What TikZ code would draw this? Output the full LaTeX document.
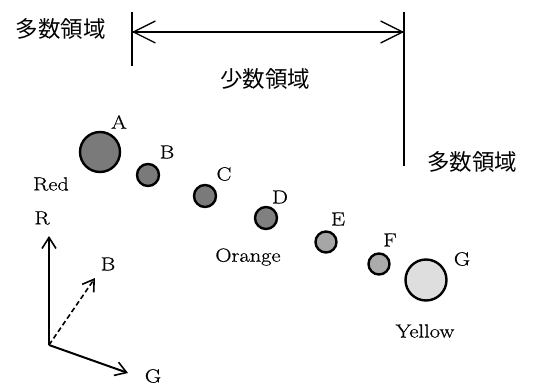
\documentclass[tikz,border=0pt]{standalone}
\usepackage{fontspec}
\newfontfamily\cjk{Noto Sans CJK JP}
\newfontfamily\wide[FakeStretch=1.18,FakeBold=0.6]{Latin Modern Roman}
\usetikzlibrary{arrows.meta}
\begin{document}
\begin{tikzpicture}[x=1pt,y=-1pt,
  lbl/.style={font=\wide\fontsize{19}{19}\selectfont, inner sep=0pt},
  jlbl/.style={font=\cjk\fontsize{22.5}{22.5}\selectfont, inner sep=0pt},
  ball/.style={circle, draw=black, line width=2.4pt, inner sep=0pt},
  bigtip/.style={-{Straight Barb[length=22pt,width=22pt,line width=1.3pt]}},
  axtip/.style={-{Straight Barb[length=11pt,width=14pt,line width=1.6pt]}}]
\useasboundingbox (0,0) rectangle (533,385);
% region labels
\node[jlbl] (m1) at (61,29) {多数領域};
\node[jlbl] (s1) at (265,79) {少数領域};
\node[jlbl] (m2) at (472,162) {多数領域};
% boundary lines
\coordinate (L1) at (132,12); \coordinate (L2) at (132,66);
\coordinate (R1) at (404,12); \coordinate (R2) at (404,166);
\coordinate (AL) at (132,32); \coordinate (AR) at (404,32);
\draw[line width=1.3pt] (L1) -- (L2);
\draw[line width=1.3pt] (R1) -- (R2);
\draw[line width=1.3pt, bigtip] (AR) -- (AL);
\draw[line width=1.3pt, bigtip] (AL) -- (AR);
% balls
\node[ball, fill=black!52, minimum size=40pt] (A) at (100,152) {};
\node[ball, fill=black!52, minimum size=22pt] (B) at (148,175) {};
\node[ball, fill=black!52, minimum size=22pt] (C) at (205,196) {};
\node[ball, fill=black!50, minimum size=22pt] (D) at (266,218) {};
\node[ball, fill=black!35, minimum size=21pt] (E) at (326,242) {};
\node[ball, fill=black!33, minimum size=21pt] (F) at (379,264) {};
\node[ball, fill=black!13, minimum size=41pt] (G) at (426,280) {};
\node[lbl] (lA) at (119,122) {A};
\node[lbl] (lB) at (167,152) {B};
\node[lbl] (lC) at (224,174) {C};
\node[lbl] (lD) at (280,197) {D};
\node[lbl] (lE) at (338,219) {E};
\node[lbl] (lF) at (390,240) {F};
\node[lbl] (lG) at (462,259) {G};
\node[lbl] (red) at (51,184) {Red};
\node[lbl] (orange) at (248,257) {Orange};
\node[lbl] (yellow) at (425,331) {Yellow};
% axes
\coordinate (O) at (49,345);
\coordinate (Rt) at (49,236);
\coordinate (Bt) at (95,278);
\coordinate (Gt) at (128,373);
\draw[line width=2pt, axtip] (O) -- (Rt);
\draw[line width=1.6pt, dashed, dash pattern=on 5pt off 3pt, axtip] (O) -- (Bt);
\draw[line width=2pt, axtip] (O) -- (Gt);
\node[lbl] (lR) at (42,218) {R};
\node[lbl] (lBB) at (108,264) {B};
\node[lbl] (lG2) at (153,376) {G};
\end{tikzpicture}
\end{document}
